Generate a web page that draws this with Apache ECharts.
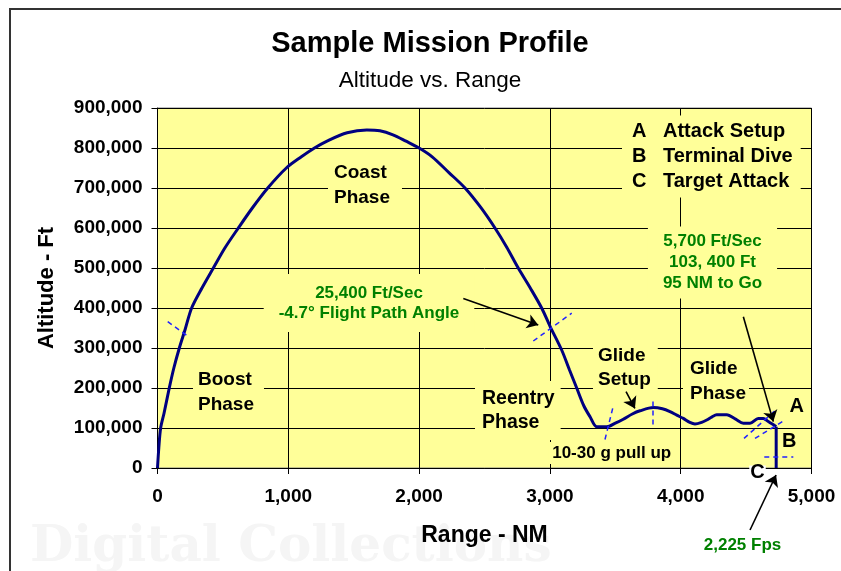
<!DOCTYPE html>
<html>
<head>
<meta charset="utf-8">
<title>Sample Mission Profile</title>
<script src="https://cdn.jsdelivr.net/npm/echarts@6/dist/echarts.min.js"></script>
<style>
  html, body { margin: 0; padding: 0; background: #fff; }
  #main { width: 841px; height: 571px; }
</style>
</head>
<body>
<div id="main"></div>
<script>
// trajectory: range (NM) and altitude (ft)
var rangeNM = [0, 10, 24, 50, 90, 125, 167, 210, 261, 340, 427, 515, 618, 725, 843, 985, 1100, 1200, 1300, 1450, 1600,
    1700, 1800, 1900, 2000, 2100, 2230, 2351, 2470, 2580, 2670, 2758, 2850, 2937, 3003, 3090, 3150, 3205, 3260,
    3307, 3358, 3434, 3500, 3561, 3630, 3689, 3790, 3860, 3918, 3970, 4020, 4070, 4109, 4160, 4199, 4240, 4275,
    4352, 4420, 4479, 4530, 4593, 4632, 4670, 4700, 4730, 4730];
var altitudeFt = [0, 50000, 100000, 137000, 200000, 250000, 300000, 345000, 400000, 450000, 500000, 550000, 600000,
    650000, 700000, 750000, 778000, 800000, 818000, 838000, 845000, 843000, 833000, 817000, 800000, 778000, 738000, 700000,
    652000, 600000, 552000, 500000, 450000, 400000, 353000, 295000, 245000, 200000, 155000, 128000, 103000, 103000,
    112000, 122000, 135000, 143000, 151000, 148000, 141000, 132000, 124000, 114000, 110000, 114000, 120000, 128000,
    133000, 133000, 122000, 112000, 112000, 124000, 124000, 116000, 110000, 103400, 0];

// axis ticks
var rangeTicks = [0, 1000, 2000, 3000, 4000, 5000];
var altTicks = [0, 100000, 200000, 300000, 400000, 500000, 600000, 700000, 800000, 900000];

// annotation arrows and dashed markers, in data units [range, altitude]
var arrowLines = [
    [[2338, 424000], [2911, 357500]],
    [[3582, 191000], [3650, 149000]],
    [[4479, 378000], [4708, 116000]],
    [[4530, -155000], [4729, -17500]]
];
var dashMarks = [
    [[78, 366000], [243, 327000]],
    [[2873, 317500], [3167, 387000]],
    [[3480, 149000], [3414, 62000]],
    [[3786, 166000], [3786, 103000]],
    [[4484, 74000], [4734, 147000]],
    [[4568, 74000], [4798, 120000]],
    [[4639, 28000], [4861, 28000]]
];

var FONT = '"Liberation Sans", Arial, sans-serif';
var YELLOW = '#FFFF99';
var GREEN = '#008000';

function pairs(xs, ys) {
    var out = [];
    for (var i = 0; i < xs.length; i++) out.push([xs[i], ys[i]]);
    return out;
}

function toLines(list) {
    return list.map(function (seg) { return { coords: seg }; });
}

function fmt(v) {
    return String(v).replace(/\B(?=(\d{3})+(?!\d))/g, ',');
}

// text block drawn on the chart; bg hides the gridlines underneath
function label(x, y, text, o) {
    o = o || {};
    var st = {
        text: text,
        x: x,
        y: y,
        fill: o.color || '#000',
        font: (o.weight || 'bold') + ' ' + (o.size || 19) + 'px ' + FONT,
        align: o.align || 'left',
        textAlign: o.align || 'left',
        verticalAlign: 'middle',
        textVerticalAlign: 'middle',
        lineHeight: o.lh || 24
    };
    if (o.bg) {
        st.backgroundColor = o.bg;
        st.padding = o.pad || [2, 4, 2, 4];
    }
    if (o.rich) st.rich = o.rich;
    return { type: 'text', z: 1, silent: true, style: st };
}

var points = pairs(rangeNM, altitudeFt);
var flight = points.slice(0, -1);   // boost, coast, reentry, glide
var dive = points.slice(-2);        // terminal dive straight down

var chart = echarts.init(document.getElementById('main'));

var option = {
    backgroundColor: '#fff',
    animation: false,
    grid: {
        left: 157.5,
        right: 29.5,
        top: 108,
        bottom: 103,
        show: true,
        backgroundColor: YELLOW,
        borderColor: '#808080',
        borderWidth: 1
    },
    xAxis: {
        type: 'value',
        min: rangeTicks[0],
        max: rangeTicks[rangeTicks.length - 1],
        interval: 1000,
        name: 'Range - NM',
        nameLocation: 'middle',
        nameGap: 56,
        nameTextStyle: { color: '#000', fontSize: 23, fontWeight: 'bold', fontFamily: FONT },
        axisLine: { show: true, lineStyle: { color: '#000', width: 1 } },
        axisTick: { show: true, length: 6, lineStyle: { color: '#000' } },
        axisLabel: {
            color: '#000', fontSize: 19, fontWeight: 'bold', fontFamily: FONT, margin: 19,
            formatter: function (v) { return fmt(v); }
        },
        splitLine: { show: true, lineStyle: { color: '#000', width: 1 } }
    },
    yAxis: {
        type: 'value',
        min: altTicks[0],
        max: altTicks[altTicks.length - 1],
        interval: 100000,
        name: 'Altitude - Ft',
        nameLocation: 'middle',
        nameGap: 100,
        nameTextStyle: { color: '#000', fontSize: 22, fontWeight: 'bold', fontFamily: FONT },
        axisLine: { show: true, lineStyle: { color: '#000', width: 1 } },
        axisTick: { show: true, length: 6, lineStyle: { color: '#000' } },
        axisLabel: {
            color: '#000', fontSize: 19, fontWeight: 'bold', fontFamily: FONT, margin: 15,
            formatter: function (v) { return fmt(v); }
        },
        splitLine: { show: true, lineStyle: { color: '#000', width: 1 } }
    },
    series: [
        {
            name: 'Altitude',
            type: 'line',
            data: flight,
            smooth: 0.3,
            showSymbol: false,
            symbol: 'none',
            lineStyle: { color: '#000080', width: 3 },
            z: 4
        },
        {
            name: 'Dive',
            type: 'line',
            data: dive,
            showSymbol: false,
            symbol: 'none',
            lineStyle: { color: '#000080', width: 3 },
            z: 4
        },
        {
            type: 'lines',
            coordinateSystem: 'cartesian2d',
            clip: false,
            data: toLines(dashMarks),
            symbol: 'none',
            lineStyle: { color: '#2222FF', width: 1.5, type: [5, 4], opacity: 1 },
            z: 5
        },
        {
            type: 'lines',
            coordinateSystem: 'cartesian2d',
            clip: false,
            data: toLines(arrowLines),
            symbol: ['none', 'arrow'],
            symbolSize: 11,
            lineStyle: { color: '#000', width: 1.6, opacity: 1 },
            z: 6
        }
    ],
    graphic: {
        elements: [
            { type: 'rect', z: 0, silent: true, shape: { x: 10, y: 9, width: 900, height: 700 },
              style: { fill: 'none', stroke: '#333', lineWidth: 2 } },
            { type: 'text', z: 0, silent: true,
              style: { text: 'Digital Collections', x: 30, y: 548, fill: '#F5F5F5',
                       font: 'bold 50px "DejaVu Serif", serif', verticalAlign: 'middle', textVerticalAlign: 'middle' } },
            label(430, 43.5, 'Sample Mission Profile', { size: 29, align: 'center' }),
            label(430, 81, 'Altitude vs. Range', { size: 22.5, align: 'center', weight: 'normal' }),
            label(328, 185, 'Coast\nPhase', { bg: YELLOW, pad: [3, 12, 3, 6], lh: 24.6 }),
            label(193, 392.5, 'Boost\nPhase', { bg: YELLOW, pad: [3, 10, 3, 5], lh: 25 }),
            label(475, 410.5, 'Reentry\nPhase', { bg: YELLOW, pad: [5, 6, 5, 7], lh: 24.4, size: 19.5 }),
            label(593, 368, 'Glide\nSetup', { bg: YELLOW, pad: [4, 7, 3, 5], lh: 24 }),
            label(683, 380.8, 'Glide\nPhase', { bg: YELLOW, pad: [0, 3, 0, 7], lh: 25 }),
            label(369, 303, '25,400 Ft/Sec\n-4.7° Flight Path Angle', { bg: YELLOW, pad: [10, 15, 8, 15], lh: 20, size: 17, color: GREEN, align: 'center' }),
            label(712.5, 262.5, '5,700 Ft/Sec\n103, 400 Ft\n95 NM to Go', { bg: YELLOW, pad: [5, 15, 4, 15], lh: 21, size: 17, color: GREEN, align: 'center' }),
            label(622, 156.5, '{k|A}Attack Setup\n{k|B}Terminal Dive\n{k|C}Target Attack', {
                bg: YELLOW, pad: [3, 8, 4, 10], lh: 25, size: 20,
                rich: { k: { width: 31, font: 'bold 20px ' + FONT, lineHeight: 25 }, '': {} }
            }),
            label(611.7, 453, '10-30 g pull up', { bg: YELLOW, pad: [1, 4, 1, 4], lh: 20, size: 17, align: 'center' }),
            label(796.7, 406, 'A', { size: 20, align: 'center' }),
            label(789.3, 441.7, 'B', { size: 20, align: 'center' }),
            label(757.5, 472.5, 'C', { size: 20, align: 'center', bg: '#FFFFFF', pad: [0, 1, 0, 1], lh: 14 }),
            label(742.5, 545, '2,225 Fps', { size: 17, align: 'center', color: GREEN })
        ]
    }
};

chart.setOption(option);
</script>
</body>
</html>
